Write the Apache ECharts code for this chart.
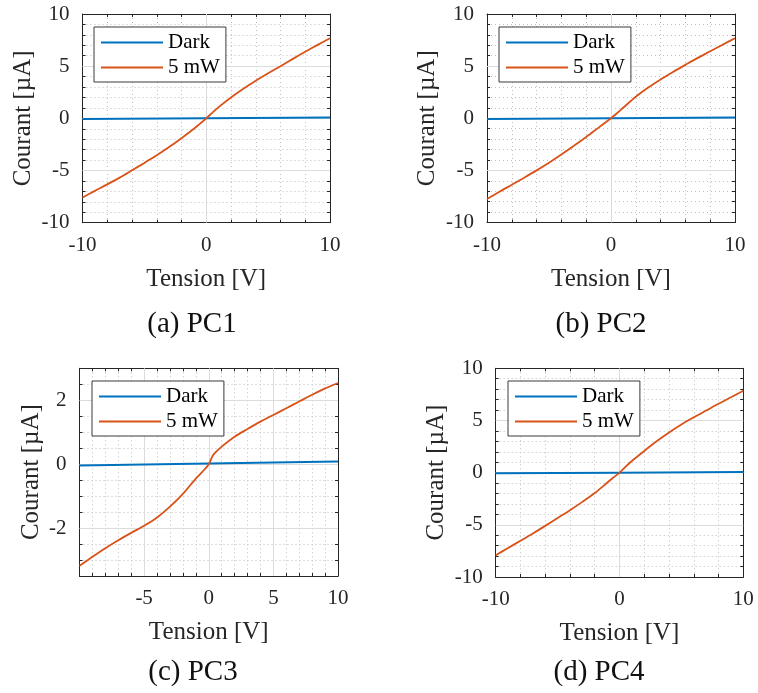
<!DOCTYPE html>
<html>
<head>
<meta charset="utf-8">
<script src="https://cdn.jsdelivr.net/npm/echarts@6/dist/echarts.min.js"></script>
<style>
html,body{margin:0;padding:0;background:#fff;}
#c{width:758px;height:693px;}
</style>
</head>
<body>
<div id="c"></div>
<script>
// ---------- data ----------
const seriesNames = ['Dark', '5 mW'];
const captions = ['(a) PC1', '(b) PC2', '(c) PC3', '(d) PC4'];
const xTitle = 'Tension [V]';
const yTitle = 'Courant [µA]';

const darkV = [-10, 0, 10];

// PC1
const pc1V     = [-10, -9, -8, -7, -6, -5, -4, -3, -2, -1, -0.5, 0, 0.5, 1, 2, 3, 4, 5, 6, 7, 8, 9, 10];
const pc1Light = [-7.58, -6.95, -6.33, -5.68, -4.98, -4.27, -3.54, -2.75, -1.9, -1.0, -0.5, 0, 0.55, 1.08, 2.0, 2.83, 3.6, 4.32, 5.0, 5.7, 6.38, 7.04, 7.68];
const pc1Dark  = [-0.07, 0.0, 0.09];

// PC2
const pc2V     = [-10, -9, -8, -7, -6, -5, -4, -3, -2, -1, -0.5, 0, 0.5, 1, 2, 3, 4, 5, 6, 7, 8, 9, 10];
const pc2Light = [-7.75, -7.05, -6.38, -5.7, -5.0, -4.26, -3.48, -2.65, -1.8, -0.9, -0.45, 0, 0.5, 1.03, 2.06, 2.94, 3.72, 4.44, 5.12, 5.79, 6.42, 7.05, 7.68];
const pc2Dark  = [-0.08, 0.0, 0.06];

// PC3
const pc3V     = [-10, -9, -8, -7, -6, -5, -4, -3, -2, -1, -0.5, 0, 0.3, 0.5, 1, 2, 3, 4, 5, 6, 7, 8, 9, 10];
const pc3Light = [-3.18, -2.9, -2.63, -2.38, -2.15, -1.93, -1.67, -1.33, -0.93, -0.45, -0.24, 0, 0.26, 0.36, 0.55, 0.86, 1.1, 1.33, 1.54, 1.75, 1.96, 2.17, 2.37, 2.54];
const pc3Dark  = [-0.04, 0.02, 0.08];

// PC4
const pc4V     = [-10, -9, -8, -7, -6, -5, -4, -3, -2, -1, -0.5, 0, 0.5, 1, 2, 3, 4, 5, 6, 7, 8, 9, 10];
const pc4Light = [-7.92, -7.22, -6.53, -5.83, -5.1, -4.35, -3.6, -2.8, -1.95, -0.97, -0.47, 0, 0.58, 1.12, 2.08, 3.0, 3.85, 4.62, 5.3, 5.95, 6.6, 7.22, 7.85];
const pc4Dark  = [-0.05, 0.0, 0.06];

// tick labels and major grid values
const xTicksWide = [-10, 0, 10];
const yTicksWide = [-10, -5, 0, 5, 10];
const xTicksPC3  = [-5, 0, 5, 10];
const yTicksPC3  = [-2, 0, 2];
const xMajorWide = [0];
const yMajorWide = [-5, 0, 5];
const xMajorPC3  = [-5, 0, 5];
const yMajorPC3  = [-2, 0, 2];

// ---------- layout / style ----------
const FONT = 'Liberation Serif';
const INK = '#262626';
const BLUE = '#0072BD';
const ORANGE = '#D95319';

const panels = [
  {grid:{left:82.5, top:14, width:247.5, height:208.7}, v:pc1V, light:pc1Light, dark:pc1Dark,
   xr:[-10,10,2], yr:[-10,10,1], xTicks:xTicksWide, yTicks:yTicksWide, xMaj:xMajorWide, yMaj:yMajorWide,
   legend:{left:94, top:27}, xGap:44, yGap:47, cap:[192,324]},
  {grid:{left:487, top:14, width:248, height:208.5}, v:pc2V, light:pc2Light, dark:pc2Dark,
   xr:[-10,10,2], yr:[-10,10,1], xTicks:xTicksWide, yTicks:yTicksWide, xMaj:xMajorWide, yMaj:yMajorWide,
   legend:{left:499, top:27}, xGap:44, yGap:47.5, cap:[601,324]},
  {grid:{left:79.5, top:368.3, width:258.5, height:207.7}, v:pc3V, light:pc3Light, dark:pc3Dark,
   xr:[-10,10,1], yr:[-3.5,3,0.5], xTicks:xTicksPC3, yTicks:yTicksPC3, xMaj:xMajorPC3, yMaj:yMajorPC3,
   legend:{left:92, top:381}, xGap:44, yGap:36, cap:[193,672]},
  {grid:{left:495.7, top:368.3, width:247.6, height:208.7}, v:pc4V, light:pc4Light, dark:pc4Dark,
   xr:[-10,10,2], yr:[-10,10,1], xTicks:xTicksWide, yTicks:yTicksWide, xMaj:xMajorWide, yMaj:yMajorWide,
   legend:{left:508, top:381}, xGap:44, yGap:46.5, cap:[599,672]}
];

function zip(a, b) { return a.map((v, k) => [v, b[k]]); }

function baseAxis(r) {
  return {
    type: 'value', min: r[0], max: r[1], interval: r[2],
    axisLine: {show: true, onZero: false, lineStyle: {color: INK, width: 1}},
    axisTick: {show: true, inside: true, length: 3, lineStyle: {color: INK, width: 1}}
  };
}

const option = {
  animation: false,
  backgroundColor: '#fff',
  grid: [], xAxis: [], yAxis: [], series: [], legend: [], graphic: []
};

panels.forEach((p, i) => {
  option.grid.push(Object.assign({show: false}, p.grid));
  const minorSplit = {show: true, lineStyle: {color: '#bfbfbf', width: 1, type: [1, 3]}};
  option.xAxis.push(Object.assign(baseAxis(p.xr), {
    gridIndex: i, position: 'bottom',
    axisLabel: {customValues: p.xTicks, margin: 12, fontFamily: FONT, fontSize: 21, color: INK},
    splitLine: minorSplit,
    name: xTitle, nameLocation: 'middle', nameGap: p.xGap,
    nameTextStyle: {fontFamily: FONT, fontSize: 25, color: INK}
  }));
  option.xAxis.push(Object.assign(baseAxis(p.xr), {
    gridIndex: i, position: 'top', axisLabel: {show: false}, splitLine: {show: false}
  }));
  option.yAxis.push(Object.assign(baseAxis(p.yr), {
    gridIndex: i, position: 'left',
    axisLabel: {customValues: p.yTicks, margin: 13, fontFamily: FONT, fontSize: 21, color: INK},
    splitLine: minorSplit,
    name: yTitle, nameLocation: 'middle', nameGap: p.yGap,
    nameTextStyle: {fontFamily: FONT, fontSize: 25, color: INK}
  }));
  option.yAxis.push(Object.assign(baseAxis(p.yr), {
    gridIndex: i, position: 'right', axisLabel: {show: false}, splitLine: {show: false}
  }));

  const xi = 2 * i, yi = 2 * i;
  // major grid lines (bottom layer)
  option.series.push({
    type: 'line', xAxisIndex: xi, yAxisIndex: yi, data: [], z: 1, zlevel: 0, silent: true,
    markLine: {
      silent: true, symbol: 'none', animation: false, label: {show: false},
      lineStyle: {color: '#dcdcdc', type: 'solid', width: 1},
      emphasis: {disabled: true},
      data: p.xMaj.map(v => ({xAxis: v})).concat(p.yMaj.map(v => ({yAxis: v})))
    }
  });
  option.series.push({
    type: 'line', name: seriesNames[0], xAxisIndex: xi, yAxisIndex: yi,
    data: zip(darkV, p.dark), symbol: 'none', showSymbol: false, zlevel: 1, z: 3,
    lineStyle: {color: BLUE, width: 2}, itemStyle: {color: BLUE}
  });
  option.series.push({
    type: 'line', name: seriesNames[1], xAxisIndex: xi, yAxisIndex: yi,
    data: zip(p.v, p.light), symbol: 'none', showSymbol: false, zlevel: 1, z: 3, smooth: 0.3,
    lineStyle: {color: ORANGE, width: 1.8}, itemStyle: {color: ORANGE}
  });

  option.legend.push({
    left: p.legend.left, top: p.legend.top, orient: 'vertical', zlevel: 2, z: 6,
    data: seriesNames, selectedMode: false, icon: 'rect',
    padding: [5, 6, 4, 7], itemGap: 4, itemWidth: 62, itemHeight: 2,
    borderColor: '#3a3a3a', borderWidth: 1, backgroundColor: '#fff',
    textStyle: {fontFamily: FONT, fontSize: 21, color: '#000'}
  });

  option.graphic.push({
    type: 'text', x: p.cap[0], y: p.cap[1],
    style: {text: captions[i], fontFamily: FONT, fontSize: 29, fill: '#111', align: 'center', verticalAlign: 'middle'}
  });
});

const chart = echarts.init(document.getElementById('c'));
chart.setOption(option);
</script>
</body>
</html>
